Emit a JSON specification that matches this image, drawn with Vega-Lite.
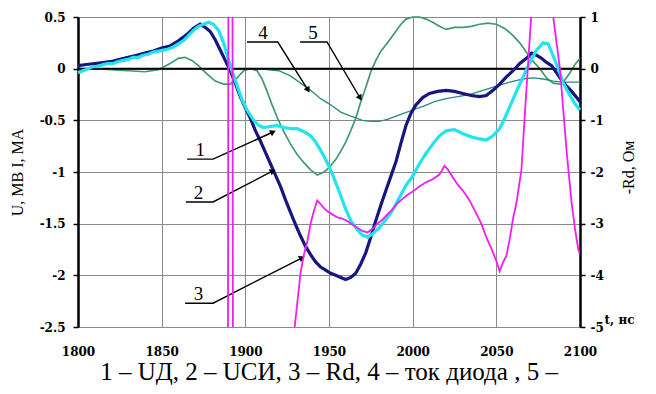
{
"$schema": "https://vega.github.io/schema/vega-lite/v6.json",
"width": 502, "height": 310,
"autosize": {"type": "none"},
"padding": {"left": 78, "top": 17, "right": 76, "bottom": 67},
"background": "white",
"title": {"text": "1 – UД, 2 – UСИ, 3 – Rd, 4 – ток диода , 5 –", "orient": "bottom", "anchor": "middle", "font": "Liberation Serif", "fontSize": 25, "fontWeight": "normal", "color": "black", "offset": 3},
"datasets": {
"c1": [{"t":1800,"v":-0.04},{"t":1803,"v":-0.02},{"t":1806,"v":0.0},{"t":1809,"v":0.02},{"t":1812,"v":0.02},{"t":1815,"v":0.04},{"t":1818,"v":0.05},{"t":1821,"v":0.05},{"t":1824,"v":0.07},{"t":1827,"v":0.08},{"t":1830,"v":0.09},{"t":1833,"v":0.11},{"t":1836,"v":0.11},{"t":1839,"v":0.13},{"t":1842,"v":0.14},{"t":1845,"v":0.16},{"t":1848,"v":0.17},{"t":1851,"v":0.18},{"t":1854,"v":0.19},{"t":1857,"v":0.21},{"t":1860,"v":0.24},{"t":1863,"v":0.27},{"t":1866,"v":0.32},{"t":1869,"v":0.37},{"t":1872,"v":0.41},{"t":1875,"v":0.43},{"t":1878,"v":0.45},{"t":1881,"v":0.43},{"t":1884,"v":0.37},{"t":1887,"v":0.25},{"t":1890,"v":0.08},{"t":1892,"v":-0.02},{"t":1895,"v":-0.16},{"t":1898,"v":-0.30},{"t":1901,"v":-0.40},{"t":1905,"v":-0.50},{"t":1908,"v":-0.55},{"t":1911,"v":-0.57},{"t":1915,"v":-0.56},{"t":1919,"v":-0.55},{"t":1923,"v":-0.57},{"t":1927,"v":-0.58},{"t":1931,"v":-0.58},{"t":1935,"v":-0.61},{"t":1939,"v":-0.65},{"t":1942,"v":-0.71},{"t":1945,"v":-0.79},{"t":1948,"v":-0.88},{"t":1951,"v":-0.98},{"t":1954,"v":-1.10},{"t":1957,"v":-1.23},{"t":1960,"v":-1.36},{"t":1963,"v":-1.47},{"t":1967,"v":-1.56},{"t":1970,"v":-1.61},{"t":1973,"v":-1.63},{"t":1976,"v":-1.60},{"t":1980,"v":-1.54},{"t":1984,"v":-1.46},{"t":1988,"v":-1.37},{"t":1992,"v":-1.25},{"t":1996,"v":-1.13},{"t":2000,"v":-1.04},{"t":2004,"v":-0.92},{"t":2008,"v":-0.82},{"t":2012,"v":-0.73},{"t":2016,"v":-0.65},{"t":2020,"v":-0.60},{"t":2025,"v":-0.59},{"t":2030,"v":-0.63},{"t":2035,"v":-0.66},{"t":2040,"v":-0.68},{"t":2044,"v":-0.69},{"t":2048,"v":-0.65},{"t":2052,"v":-0.58},{"t":2055,"v":-0.48},{"t":2058,"v":-0.37},{"t":2062,"v":-0.22},{"t":2066,"v":-0.08},{"t":2070,"v":0.06},{"t":2074,"v":0.18},{"t":2078,"v":0.25},{"t":2081,"v":0.24},{"t":2084,"v":0.12},{"t":2087,"v":0.0},{"t":2090,"v":-0.14},{"t":2094,"v":-0.26},{"t":2097,"v":-0.34},{"t":2100,"v":-0.40}],
"c2": [{"t":1800,"v":0.03},{"t":1805,"v":0.04},{"t":1810,"v":0.05},{"t":1815,"v":0.06},{"t":1820,"v":0.07},{"t":1825,"v":0.09},{"t":1830,"v":0.11},{"t":1835,"v":0.13},{"t":1840,"v":0.15},{"t":1845,"v":0.17},{"t":1850,"v":0.20},{"t":1855,"v":0.22},{"t":1860,"v":0.27},{"t":1865,"v":0.33},{"t":1869,"v":0.39},{"t":1873,"v":0.43},{"t":1876,"v":0.40},{"t":1879,"v":0.36},{"t":1882,"v":0.28},{"t":1885,"v":0.18},{"t":1888,"v":0.08},{"t":1891,"v":-0.02},{"t":1894,"v":-0.14},{"t":1897,"v":-0.27},{"t":1900,"v":-0.38},{"t":1903,"v":-0.48},{"t":1906,"v":-0.60},{"t":1909,"v":-0.70},{"t":1912,"v":-0.81},{"t":1915,"v":-0.92},{"t":1918,"v":-1.03},{"t":1921,"v":-1.14},{"t":1924,"v":-1.27},{"t":1927,"v":-1.39},{"t":1930,"v":-1.51},{"t":1933,"v":-1.62},{"t":1936,"v":-1.72},{"t":1939,"v":-1.80},{"t":1942,"v":-1.87},{"t":1945,"v":-1.92},{"t":1948,"v":-1.95},{"t":1951,"v":-1.98},{"t":1954,"v":-2.00},{"t":1957,"v":-2.02},{"t":1960,"v":-2.04},{"t":1963,"v":-2.02},{"t":1966,"v":-1.98},{"t":1969,"v":-1.89},{"t":1972,"v":-1.78},{"t":1975,"v":-1.63},{"t":1978,"v":-1.47},{"t":1981,"v":-1.32},{"t":1984,"v":-1.18},{"t":1987,"v":-1.04},{"t":1990,"v":-0.90},{"t":1993,"v":-0.72},{"t":1996,"v":-0.55},{"t":1999,"v":-0.43},{"t":2002,"v":-0.35},{"t":2006,"v":-0.28},{"t":2010,"v":-0.24},{"t":2015,"v":-0.22},{"t":2020,"v":-0.21},{"t":2025,"v":-0.22},{"t":2030,"v":-0.24},{"t":2035,"v":-0.26},{"t":2040,"v":-0.27},{"t":2044,"v":-0.26},{"t":2048,"v":-0.21},{"t":2052,"v":-0.15},{"t":2056,"v":-0.08},{"t":2060,"v":-0.02},{"t":2064,"v":0.05},{"t":2068,"v":0.10},{"t":2071,"v":0.15},{"t":2074,"v":0.13},{"t":2077,"v":0.10},{"t":2080,"v":0.06},{"t":2083,"v":0.03},{"t":2086,"v":-0.04},{"t":2089,"v":-0.11},{"t":2092,"v":-0.17},{"t":2095,"v":-0.22},{"t":2098,"v":-0.28},{"t":2100,"v":-0.32}],
"c4": [{"t":1800,"v":0},{"t":1850,"v":0},{"t":1900,"v":0},{"t":1910,"v":-0.005},{"t":1920,"v":-0.02},{"t":1927,"v":-0.07},{"t":1933,"v":-0.14},{"t":1939,"v":-0.21},{"t":1945,"v":-0.29},{"t":1951,"v":-0.35},{"t":1957,"v":-0.42},{"t":1963,"v":-0.46},{"t":1970,"v":-0.50},{"t":1975,"v":-0.51},{"t":1980,"v":-0.51},{"t":1985,"v":-0.49},{"t":1990,"v":-0.46},{"t":1995,"v":-0.43},{"t":2000,"v":-0.40},{"t":2007,"v":-0.36},{"t":2013,"v":-0.32},{"t":2020,"v":-0.29},{"t":2027,"v":-0.27},{"t":2034,"v":-0.25},{"t":2042,"v":-0.21},{"t":2050,"v":-0.17},{"t":2058,"v":-0.13},{"t":2066,"v":-0.10},{"t":2072,"v":-0.09},{"t":2078,"v":-0.10},{"t":2084,"v":-0.12},{"t":2090,"v":-0.13},{"t":2100,"v":-0.13}],
"c5": [{"t":1800,"v":0.0},{"t":1810,"v":0.0},{"t":1820,"v":-0.01},{"t":1830,"v":-0.02},{"t":1840,"v":-0.03},{"t":1848,"v":-0.01},{"t":1855,"v":0.05},{"t":1860,"v":0.10},{"t":1864,"v":0.11},{"t":1868,"v":0.08},{"t":1872,"v":0.03},{"t":1877,"v":-0.05},{"t":1882,"v":-0.12},{"t":1887,"v":-0.15},{"t":1891,"v":-0.15},{"t":1895,"v":-0.09},{"t":1899,"v":-0.02},{"t":1903,"v":0.0},{"t":1907,"v":-0.02},{"t":1910,"v":-0.10},{"t":1913,"v":-0.22},{"t":1916,"v":-0.35},{"t":1919,"v":-0.47},{"t":1923,"v":-0.61},{"t":1927,"v":-0.73},{"t":1931,"v":-0.83},{"t":1935,"v":-0.91},{"t":1939,"v":-0.98},{"t":1943,"v":-1.03},{"t":1947,"v":-1.0},{"t":1950,"v":-0.96},{"t":1954,"v":-0.88},{"t":1957,"v":-0.80},{"t":1960,"v":-0.71},{"t":1963,"v":-0.60},{"t":1966,"v":-0.48},{"t":1969,"v":-0.32},{"t":1972,"v":-0.18},{"t":1975,"v":-0.03},{"t":1978,"v":0.08},{"t":1981,"v":0.17},{"t":1985,"v":0.25},{"t":1989,"v":0.34},{"t":1993,"v":0.43},{"t":1996,"v":0.48},{"t":2000,"v":0.50},{"t":2004,"v":0.50},{"t":2008,"v":0.48},{"t":2012,"v":0.45},{"t":2016,"v":0.41},{"t":2020,"v":0.38},{"t":2025,"v":0.40},{"t":2030,"v":0.40},{"t":2035,"v":0.41},{"t":2040,"v":0.43},{"t":2045,"v":0.44},{"t":2050,"v":0.43},{"t":2055,"v":0.39},{"t":2060,"v":0.32},{"t":2064,"v":0.25},{"t":2068,"v":0.16},{"t":2072,"v":0.07},{"t":2076,"v":0.0},{"t":2080,"v":-0.09},{"t":2084,"v":-0.14},{"t":2088,"v":-0.15},{"t":2091,"v":-0.11},{"t":2094,"v":-0.04},{"t":2097,"v":0.04},{"t":2100,"v":0.10}],
"rd": [{"t":1889.6,"r":-6},{"t":1889.9,"r":2},{"t":1892.3,"r":2},{"t":1892.6,"r":-6},{"t":1928.5,"r":-6},{"t":1929.5,"r":-5.0},{"t":1931,"r":-4.55},{"t":1933,"r":-3.95},{"t":1935,"r":-3.6},{"t":1937,"r":-3.35},{"t":1939,"r":-3.0},{"t":1941,"r":-2.75},{"t":1943,"r":-2.55},{"t":1945,"r":-2.62},{"t":1947,"r":-2.7},{"t":1949,"r":-2.76},{"t":1952,"r":-2.82},{"t":1955,"r":-2.88},{"t":1958,"r":-2.9},{"t":1961,"r":-2.95},{"t":1964,"r":-3.02},{"t":1967,"r":-3.08},{"t":1970,"r":-3.14},{"t":1973,"r":-3.17},{"t":1976,"r":-3.1},{"t":1979,"r":-3.0},{"t":1982,"r":-2.92},{"t":1985,"r":-2.82},{"t":1988,"r":-2.72},{"t":1991,"r":-2.6},{"t":1994,"r":-2.52},{"t":1997,"r":-2.44},{"t":2000,"r":-2.38},{"t":2004,"r":-2.28},{"t":2008,"r":-2.2},{"t":2012,"r":-2.14},{"t":2016,"r":-2.05},{"t":2019,"r":-1.88},{"t":2021,"r":-1.95},{"t":2024,"r":-2.1},{"t":2027,"r":-2.25},{"t":2030,"r":-2.36},{"t":2034,"r":-2.55},{"t":2038,"r":-2.8},{"t":2041,"r":-3.0},{"t":2044,"r":-3.26},{"t":2047,"r":-3.48},{"t":2050,"r":-3.72},{"t":2052,"r":-3.92},{"t":2054,"r":-3.75},{"t":2056,"r":-3.62},{"t":2058,"r":-3.3},{"t":2060,"r":-2.9},{"t":2062,"r":-2.6},{"t":2065,"r":-1.96},{"t":2067,"r":-0.9},{"t":2069,"r":0.1},{"t":2071,"r":1.1},{"t":2072,"r":2},{"t":2083,"r":2},{"t":2084,"r":1.0},{"t":2086,"r":0.5},{"t":2088,"r":0.0},{"t":2090,"r":-0.8},{"t":2092,"r":-1.6},{"t":2093.5,"r":-2.1},{"t":2095,"r":-2.6},{"t":2097,"r":-3.1},{"t":2099,"r":-3.5},{"t":2100,"r":-3.6}],
"leaders": [{"id":"1","t":1865.2,"v":-0.875},{"id":"1","t":1880.7,"v":-0.875},{"id":"1","t":1916.6,"v":-0.613},{"id":"2","t":1864.5,"v":-1.29},{"id":"2","t":1880.7,"v":-1.29},{"id":"2","t":1916.4,"v":-0.99},{"id":"3","t":1864,"v":-2.27},{"id":"3","t":1880.7,"v":-2.27},{"id":"3","t":1933.9,"v":-1.83},{"id":"4","t":1901,"v":0.258},{"id":"4","t":1919.4,"v":0.258},{"id":"4","t":1937.5,"v":-0.207},{"id":"5","t":1932.7,"v":0.258},{"id":"5","t":1948.8,"v":0.258},{"id":"5","t":1968.6,"v":-0.284}],
"labels": [{"id":"1","t":1873,"v":-0.875},{"id":"2","t":1872,"v":-1.29},{"id":"3","t":1872,"v":-2.27},{"id":"4","t":1910.6,"v":0.258},{"id":"5","t":1940.5,"v":0.258}],
"tipsA": [{"id":"1","t":1916.6,"v":-0.613},{"id":"2","t":1916.4,"v":-0.99},{"id":"3","t":1933.9,"v":-1.83}],
"tipsB": [{"id":"4","t":1937.5,"v":-0.207},{"id":"5","t":1968.6,"v":-0.284}]
},
"layer": [
{"layer": [
 {"data": {"name": "c5"}, "mark": {"type": "line", "color": "#3f9a6e", "strokeWidth": 1.7},
  "encoding": {
   "x": {"field": "t", "type": "quantitative", "scale": {"domain": [1800, 2100], "nice": false, "zero": false},
     "axis": {"values": [1800, 1850, 1900, 1950, 2000, 2050, 2100], "format": "d", "tickSize": 0, "labelPadding": 19, "domain": false, "grid": true, "title": "t, нс", "titleX": 526, "titleY": -8, "titleAlign": "left", "titleBaseline": "middle", "titleFont": "DejaVu Serif", "titleFontWeight": "bold", "titleFontSize": 12, "labelFlush": false}},
   "y": {"field": "v", "type": "quantitative", "scale": {"domain": [-2.5, 0.5], "nice": false, "zero": false},
     "axis": {"values": [-2.5, -2, -1.5, -1, -0.5, 0, 0.5], "labelExpr": "datum.value + ''", "tickSize": 5, "labelPadding": 8, "domainColor": "black", "domainWidth": 2.5, "tickColor": "black", "tickWidth": 1.5, "grid": true, "title": "U, МВ  I, МА", "titleFontSize": 16, "titleX": -53, "titleY": 155, "titleAlign": "center", "titleAngle": -90}}
  }},
 {"data": {"name": "c4"}, "mark": {"type": "line", "color": "#2a8a80", "strokeWidth": 1.3},
  "encoding": {"x": {"field": "t", "type": "quantitative", "scale": {"domain": [1800, 2100], "nice": false, "zero": false}}, "y": {"field": "v", "type": "quantitative", "scale": {"domain": [-2.5, 0.5], "nice": false, "zero": false}}}},
 {"data": {"values": [{}]}, "mark": {"type": "rule", "color": "black", "strokeWidth": 2},
  "encoding": {"y": {"datum": 0, "type": "quantitative", "scale": {"domain": [-2.5, 0.5], "nice": false, "zero": false}}}},
 {"data": {"name": "c2"}, "mark": {"type": "line", "color": "#16167f", "strokeWidth": 3.2},
  "encoding": {"x": {"field": "t", "type": "quantitative", "scale": {"domain": [1800, 2100], "nice": false, "zero": false}}, "y": {"field": "v", "type": "quantitative", "scale": {"domain": [-2.5, 0.5], "nice": false, "zero": false}}}},
 {"data": {"name": "c1"}, "mark": {"type": "line", "color": "#22e3ee", "strokeWidth": 3.2},
  "encoding": {"x": {"field": "t", "type": "quantitative", "scale": {"domain": [1800, 2100], "nice": false, "zero": false}}, "y": {"field": "v", "type": "quantitative", "scale": {"domain": [-2.5, 0.5], "nice": false, "zero": false}}}},
 {"data": {"name": "leaders"}, "mark": {"type": "line", "color": "black", "strokeWidth": 1.4},
  "encoding": {"x": {"field": "t", "type": "quantitative", "scale": {"domain": [1800, 2100], "nice": false, "zero": false}}, "y": {"field": "v", "type": "quantitative", "scale": {"domain": [-2.5, 0.5], "nice": false, "zero": false}}, "detail": {"field": "id"}}},
 {"data": {"name": "tipsA"}, "mark": {"type": "point", "shape": "triangle-up", "filled": true, "color": "black", "size": 45, "angle": 64, "opacity": 1},
  "encoding": {"x": {"field": "t", "type": "quantitative", "scale": {"domain": [1800, 2100], "nice": false, "zero": false}}, "y": {"field": "v", "type": "quantitative", "scale": {"domain": [-2.5, 0.5], "nice": false, "zero": false}}}},
 {"data": {"name": "tipsB"}, "mark": {"type": "point", "shape": "triangle-up", "filled": true, "color": "black", "size": 45, "angle": 149, "opacity": 1},
  "encoding": {"x": {"field": "t", "type": "quantitative", "scale": {"domain": [1800, 2100], "nice": false, "zero": false}}, "y": {"field": "v", "type": "quantitative", "scale": {"domain": [-2.5, 0.5], "nice": false, "zero": false}}}},
 {"data": {"name": "labels"}, "mark": {"type": "text", "font": "Liberation Serif", "fontSize": 19, "baseline": "bottom", "align": "center", "dy": 1, "color": "black"},
  "encoding": {"x": {"field": "t", "type": "quantitative", "scale": {"domain": [1800, 2100], "nice": false, "zero": false}}, "y": {"field": "v", "type": "quantitative", "scale": {"domain": [-2.5, 0.5], "nice": false, "zero": false}}, "text": {"field": "id"}}}
]},
{"data": {"name": "rd"}, "mark": {"type": "line", "color": "#f01ef0", "strokeWidth": 1.8, "clip": true},
 "encoding": {
  "x": {"field": "t", "type": "quantitative", "scale": {"domain": [1800, 2100], "nice": false, "zero": false}},
  "y": {"field": "r", "type": "quantitative", "scale": {"domain": [-5, 1], "nice": false, "zero": false},
    "axis": {"orient": "right", "values": [-5, -4, -3, -2, -1, 0, 1], "labelExpr": "datum.value + ''", "tickSize": 5, "labelPadding": 5, "domainColor": "black", "domainWidth": 2.5, "tickColor": "black", "tickWidth": 1.5, "grid": false, "title": "-Rd, Ом", "titleAngle": -90, "titleFontSize": 16, "titleX": 56, "titleY": 150, "titleAlign": "center", "titleBaseline": "bottom"}}
 }}
],
"resolve": {"scale": {"y": "independent"}},
"config": {
 "view": {"stroke": null},
 "axis": {"labelFont": "DejaVu Serif", "labelFontWeight": "bold", "labelFontSize": 12, "labelColor": "black", "titleFont": "Liberation Serif", "titleFontWeight": "normal", "titleColor": "black", "gridColor": "#8a8a8a", "gridWidth": 1, "gridOpacity": 1}
}
}
